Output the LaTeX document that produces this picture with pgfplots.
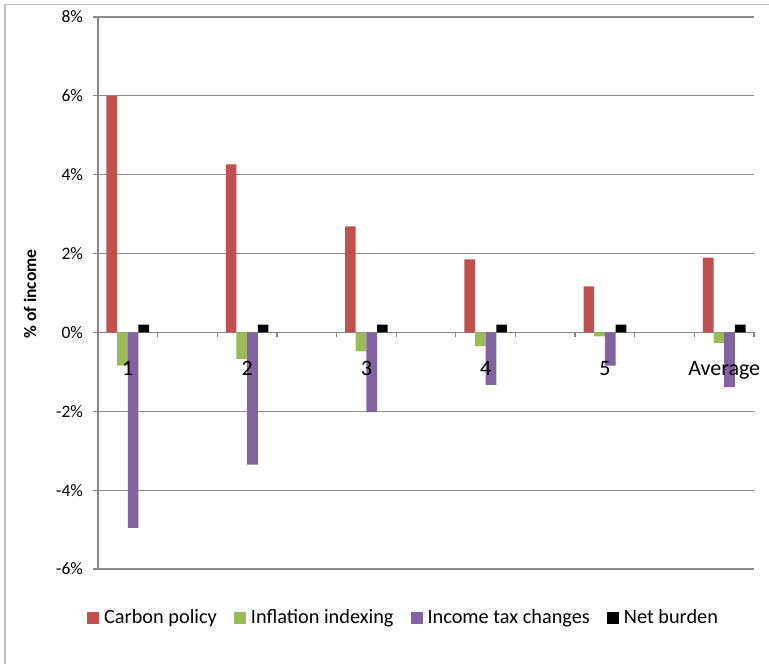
\documentclass[border=0pt]{standalone}
\usepackage{pgfplots}
\pgfplotsset{compat=1.18}
\usepackage{fontspec}
\setmainfont{Carlito}
\definecolor{cred}{HTML}{C0504D}
\definecolor{cgreen}{HTML}{9BBB59}
\definecolor{cpurple}{HTML}{8064A2}
\definecolor{gridc}{HTML}{8C8C8C}
\definecolor{axisc}{HTML}{868686}
\definecolor{framec}{HTML}{BFBFBF}
\begin{document}
\begin{tikzpicture}[x=1pt,y=1pt]
\path[use as bounding box] (0,0) rectangle (769,664);
\draw[color=framec, line width=1.2pt] (5,0) -- (5,659.5) -- (769,659.5);
\node[rotate=90, font=\bfseries\fontsize{17.5}{20}\selectfont] at (30,370) {\% of income};
\begin{axis}[
  at={(98pt,95pt)}, anchor=south west,
  width=656pt, height=552pt, scale only axis,
  clip=false,
  xmin=-0.5, xmax=10.5, ymin=-6, ymax=8,
  axis y line*=left, axis x line*=middle,
  axis line style={draw=axisc, line width=1.5pt, -},
  ytick={-6,-4,...,8},
  yticklabel={\pgfmathprintnumber{\tick}\%},
  /pgf/number format/assume math mode=true,
  ymajorgrids, grid style={color=gridc, line width=1.2pt},
  xtick={0,2,...,10}, xticklabels={},
  minor xtick={-0.5,0.5,...,10.5},
  tick align=outside,
  major tick length=5pt, minor tick length=5pt,
  tick style={color=axisc, line width=1.2pt},
  major x tick style={draw=none},
  yticklabel style={font=\fontsize{17.5}{20}\selectfont, xshift=-6.5pt},
  ybar=0pt, bar width=10.67pt,
  legend columns=4,
  legend style={draw=none, fill=none, inner sep=0pt,
    at={(rel axis cs:-0.0168,-0.0879)}, anchor=west,
    font=\fontsize{20.3}{23}\selectfont,
    nodes={inner sep=0pt},
    /tikz/every even column/.style={column sep=17pt},
    /tikz/every odd column/.style={column sep=5pt}},
  legend image code/.code={\fill[#1] (0pt,-6pt) rectangle (12pt,6pt);},
]
\addplot[fill=cred, draw=none] coordinates {(0,6.0) (2,4.26) (4,2.69) (6,1.85) (8,1.17) (10,1.90)};
\addplot[fill=cgreen, draw=none] coordinates {(0,-0.84) (2,-0.68) (4,-0.48) (6,-0.35) (8,-0.10) (10,-0.27)};
\addplot[fill=cpurple, draw=none] coordinates {(0,-4.96) (2,-3.35) (4,-2.02) (6,-1.33) (8,-0.84) (10,-1.39)};
\addplot[fill=black, draw=none] coordinates {(0,0.2) (2,0.2) (4,0.2) (6,0.2) (8,0.2) (10,0.2)};
\legend{Carbon policy, Inflation indexing, Income tax changes, Net burden}
\foreach \k/\lab in {0/1,2/2,4/3,6/4,8/5,10/Average} {
  \edef\tmp{\noexpand\node[anchor=north, inner sep=0pt, yshift=-29pt, font=\noexpand\fontsize{22}{25}\noexpand\selectfont] at (axis cs:\k,0) {\lab};}
  \tmp
}
\end{axis}
\end{tikzpicture}
\end{document}
